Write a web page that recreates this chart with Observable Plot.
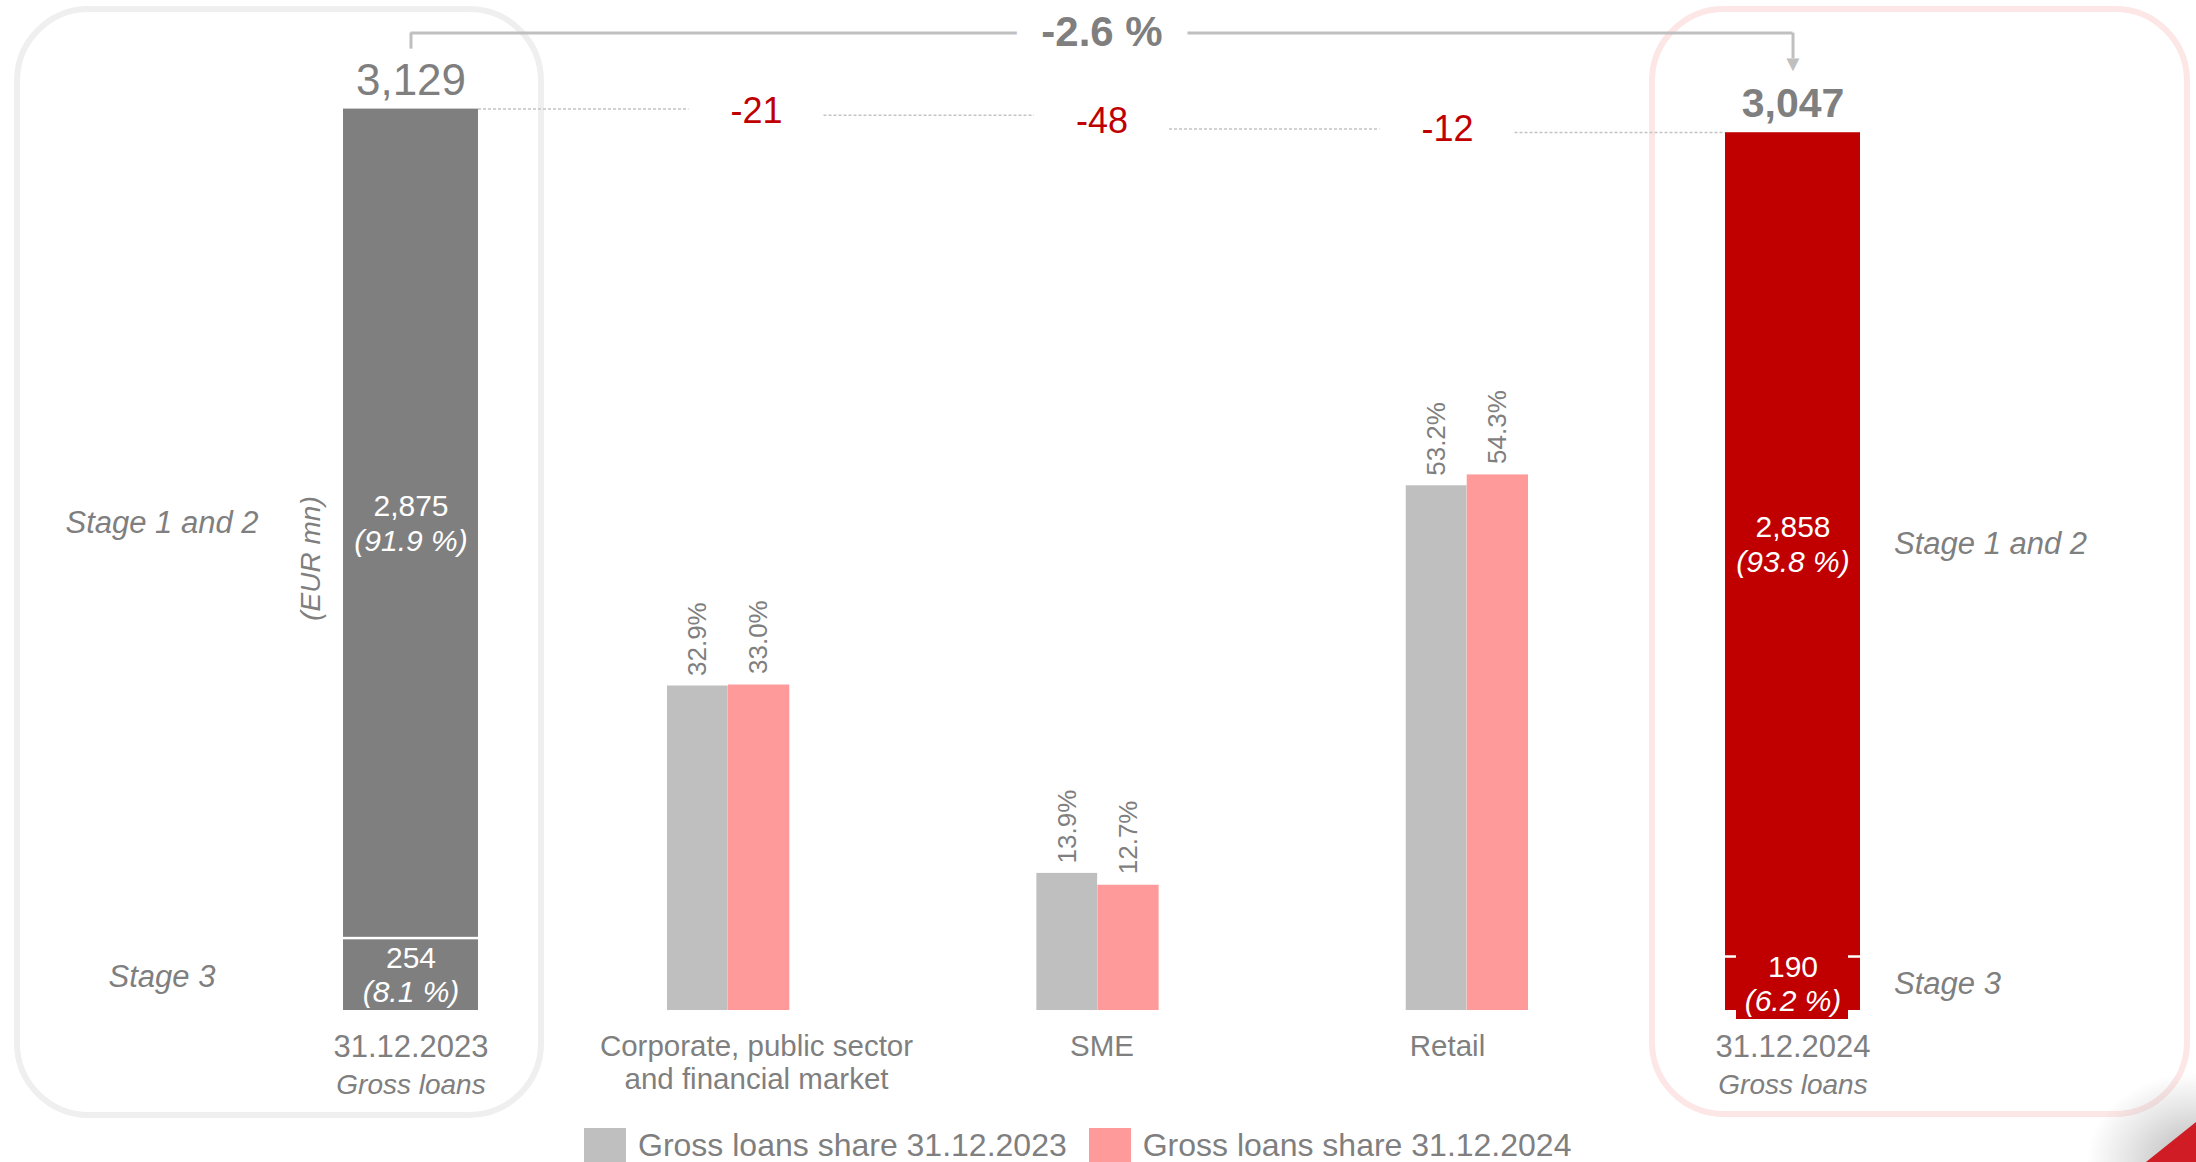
<!DOCTYPE html>
<html>
<head>
<meta charset="utf-8">
<script src="https://cdn.jsdelivr.net/npm/d3@7"></script>
<script src="https://cdn.jsdelivr.net/npm/@observablehq/plot@0.6"></script>
<style>
html, body { margin: 0; padding: 0; background: #fff; }
#wrap { position: relative; width: 2196px; height: 1162px; overflow: hidden; font-family: "Liberation Sans", Arial, sans-serif; }
#wrap svg { position: absolute; left: 0; top: 0; }
.box { position: absolute; box-sizing: border-box; border-radius: 75px; }
#legend { position: absolute; left: 584px; top: 1128px; display: flex; align-items: flex-start; color: #7f7f7f; font-size: 32px; }
#legend .item { display: flex; align-items: flex-start; margin-right: 22px; }
#legend .sw { width: 42px; height: 34px; margin-right: 12px; }
#legend .lab { line-height: 30px; height: 30px; margin-top: 2px; white-space: nowrap; }
#corner-shadow { position: absolute; right: 0; bottom: 0; width: 110px; height: 90px;
  background: radial-gradient(ellipse at 100% 100%, rgba(120,120,120,0.55) 0%, rgba(160,160,160,0.25) 45%, rgba(255,255,255,0) 70%); }
#corner-red { position: absolute; right: 0; bottom: 0; width: 50px; height: 40px; background: #d01c24;
  clip-path: polygon(0 100%, 100% 0, 100% 100%); }
</style>
</head>
<body>
<div id="wrap">
  <div class="box" style="left:14px;top:6px;width:530px;height:1112px;border:6px solid #efefef;"></div>
  <div class="box" style="left:1649px;top:6px;width:541px;height:1111px;border:6px solid #fde6e6;"></div>
  <div id="corner-shadow"></div>
  <div id="corner-red"></div>
  <div id="legend"></div>
</div>
<script>
// ---- data ----
const grossDates = ["31.12.2023", "31.12.2024"];
const grossTotal = [3129, 3047];
const stage12 = [2875, 2858];
const stage3 = [254, 190];
const stage12Pct = [91.9, 93.8];
const stage3Pct = [8.1, 6.2];
const stageNames = ["Stage 1 and 2", "Stage 3"];
const grossSubLabel = "Gross loans";
const unitLabel = "(EUR mn)";

const segments = ["Corporate, public sector and financial market", "SME", "Retail"];
const segLine1 = ["Corporate, public sector", "SME", "Retail"];
const segLine2 = ["and financial market", "", ""];
const deltas = [-21, -48, -12];
const share2023 = [32.9, 13.9, 53.2];
const share2024 = [33.0, 12.7, 54.3];
const legendLabels = ["Gross loans share 31.12.2023", "Gross loans share 31.12.2024"];

// ---- derived tables ----
const grossRows = grossDates.map((d, i) => ({
  date: d, total: grossTotal[i], stage12: stage12[i], stage3: stage3[i],
  pct12: stage12Pct[i], pct3: stage3Pct[i]
}));
let run = grossTotal[0];
const deltaRows = segments.map((s, i) => {
  const start = run; run += deltas[i];
  return {seg: s, delta: deltas[i], start, end: run, line1: segLine1[i], line2: segLine2[i]};
});
const cats = [grossDates[0], ...segments, grossDates[1]];
const connRows = cats.slice(0, -1).map((c, i) => ({
  from: c, to: cats[i + 1], level: i === 0 ? grossTotal[0] : deltaRows[i - 1].end
}));
const shareRows = segments.map((s, i) => ({seg: s, s23: share2023[i], s24: share2024[i]}));
const changeText = ((grossTotal[1] / grossTotal[0] - 1) * 100).toFixed(1) + " %";

// ---- styles ----
const FONT = "Liberation Sans, Arial, sans-serif";
const GRAY = "#7f7f7f";
const RED = "#c00000";
const BW = 135;
const fmt = d3.format(",");
const pct = v => `(${v.toFixed(1)} %)`;
const colors = ["#7f7f7f", "#c00000"];

// ---- Plot A: gross loans waterfall (EUR mn) ----
const marksA = [];
grossRows.forEach((r, i) => {
  marksA.push(Plot.barY([r], {x: "date", y1: 0, y2: "stage3", fill: colors[i], insetTop: 2.5}));
  marksA.push(Plot.barY([r], {x: "date", y1: "stage3", y2: "total", fill: colors[i]}));
});
// label backing on 2024 stage 3
marksA.push(Plot.barY([grossRows[1]], {x: "date", y1: 0, y2: "stage3", fill: RED, insetLeft: 11, insetRight: 12, insetTop: -3, insetBottom: -9}));

marksA.push(
  // connectors
  Plot.ruleY(connRows, {y: "level", x1: "from", x2: "to", insetLeft: BW, insetRight: BW, stroke: "#c4c4c4", strokeWidth: 1.5, strokeDasharray: "3,2"}),
  // values inside bars
  Plot.text(grossRows, {x: "date", y: d => (d.stage3 + d.total) / 2, text: d => fmt(d.stage12), dy: -17, fill: "white", fontSize: 30}),
  Plot.text(grossRows, {x: "date", y: d => (d.stage3 + d.total) / 2, text: d => pct(d.pct12), dy: 18, fill: "white", fontSize: 30, fontStyle: "italic"}),
  Plot.text(grossRows, {x: "date", y: d => d.stage3 / 2, text: d => fmt(d.stage3), dy: -16, fill: "white", fontSize: 30}),
  Plot.text(grossRows, {x: "date", y: d => d.stage3 / 2, text: d => pct(d.pct3), dy: 18, fill: "white", fontSize: 30, fontStyle: "italic"}),
  // totals
  Plot.text([grossRows[0]], {x: "date", y: "total", text: d => fmt(d.total), dy: -28, fill: GRAY, fontSize: 44}),
  Plot.text([grossRows[1]], {x: "date", y: "total", text: d => fmt(d.total), dy: -29, fill: GRAY, fontSize: 41, fontWeight: "bold"}),
  // stage labels
  Plot.text([grossRows[0]], {x: "date", y: d => (d.stage3 + d.total) / 2, text: () => stageNames[0], dx: -249, fill: GRAY, fontSize: 31, fontStyle: "italic"}),
  Plot.text([grossRows[0]], {x: "date", y: d => d.stage3 / 2, text: () => stageNames[1], dx: -249, dy: 3, fill: GRAY, fontSize: 31, fontStyle: "italic"}),
  Plot.text([grossRows[1]], {x: "date", y: d => (d.stage3 + d.total) / 2, text: () => stageNames[0], dx: 101, textAnchor: "start", fill: GRAY, fontSize: 31, fontStyle: "italic"}),
  Plot.text([grossRows[1]], {x: "date", y: d => d.stage3 / 2, text: () => stageNames[1], dx: 101, dy: 1, textAnchor: "start", fill: GRAY, fontSize: 31, fontStyle: "italic"}),
  // deltas
  Plot.text(deltaRows, {x: "seg", y: d => (d.start + d.end) / 2, text: d => String(d.delta), dy: -1, fill: RED, fontSize: 36}),
  // bracket with change
  Plot.ruleY([grossRows[0]], {y: "total", x1: () => grossDates[0], x2: () => grossDates[1], insetLeft: BW / 2, insetRight: BW / 2, dy: -76, stroke: "#bfbfbf", strokeWidth: 3}),
  Plot.ruleX([grossRows[0]], {x: "date", y1: "total", y2: "total", insetTop: -76, insetBottom: 60, stroke: "#bfbfbf", strokeWidth: 3}),
  Plot.ruleX([grossRows[1]], {x: "date", y1: () => grossTotal[0], y2: "total", insetTop: -76, insetBottom: 74, stroke: "#bfbfbf", strokeWidth: 3}),
  Plot.text([grossRows[1]], {x: "date", y: "total", text: () => "\u25BC", dy: -69, fill: "#bfbfbf", fontSize: 22}),
  Plot.text([grossRows[0]], {y: "total", text: () => changeText, dy: -77, fill: GRAY, fontSize: 42, fontWeight: "bold", stroke: "white", strokeWidth: 52, paintOrder: "stroke", strokeLinejoin: "round"}),
  // bottom labels
  Plot.text(grossRows, {x: "date", frameAnchor: "bottom", lineAnchor: "middle", text: "date", dy: 37, fill: GRAY, fontSize: 31}),
  Plot.text(grossRows, {x: "date", frameAnchor: "bottom", lineAnchor: "middle", text: () => grossSubLabel, dy: 75, fill: GRAY, fontSize: 28, fontStyle: "italic"}),
  Plot.text(deltaRows, {x: "seg", frameAnchor: "bottom", lineAnchor: "middle", text: "line1", dy: 36, fill: GRAY, fontSize: 29.5}),
  Plot.text(deltaRows, {x: "seg", frameAnchor: "bottom", lineAnchor: "middle", text: "line2", dy: 69, fill: GRAY, fontSize: 29.5}),
  // unit
  Plot.text([unitLabel], {frameAnchor: "left", textAnchor: "middle", lineAnchor: "middle", text: d => d, rotate: -90, dx: -32, dy: 53, fill: GRAY, fontSize: 28, fontStyle: "italic"})
);

const plotA = Plot.plot({
  width: 2196, height: 1162,
  marginTop: 0, marginBottom: 152, marginLeft: 343, marginRight: 336,
  style: {background: "transparent", fontFamily: FONT, overflow: "visible"},
  x: {type: "band", domain: cats, paddingInner: 0.6093, paddingOuter: 0, round: false, axis: null},
  y: {domain: [0, 3506], axis: null},
  marks: marksA
});

// ---- Plot B: shares ----
const plotB = Plot.plot({
  width: 2196, height: 1162,
  marginTop: 0, marginBottom: 152, marginLeft: 667, marginRight: 668,
  style: {background: "transparent", fontFamily: FONT, overflow: "visible"},
  x: {type: "band", domain: segments, paddingInner: 0.669, paddingOuter: 0, round: false, axis: null},
  y: {domain: [0, 102.4], axis: null},
  marks: [
    Plot.barY(shareRows, {x: "seg", y: "s23", fill: "#bfbfbf", insetRight: 61.5}),
    Plot.barY(shareRows, {x: "seg", y: "s24", fill: "#fe9a9a", insetLeft: 61}),
    Plot.text(shareRows, {x: "seg", y: "s23", text: d => d.s23.toFixed(1) + "%", rotate: -90, textAnchor: "start", dx: -30.5, dy: -10, fill: GRAY, fontSize: 26}),
    Plot.text(shareRows, {x: "seg", y: "s24", text: d => d.s24.toFixed(1) + "%", rotate: -90, textAnchor: "start", dx: 30.5, dy: -11, fill: GRAY, fontSize: 26})
  ]
});

const wrap = document.getElementById("wrap");
wrap.insertBefore(plotA, document.getElementById("legend"));
wrap.insertBefore(plotB, document.getElementById("legend"));

// ---- legend ----
const legendColors = ["#bfbfbf", "#fe9a9a"];
const legend = document.getElementById("legend");
legendLabels.forEach((l, i) => {
  const item = document.createElement("div");
  item.className = "item";
  const sw = document.createElement("div");
  sw.className = "sw";
  sw.style.background = legendColors[i];
  const lab = document.createElement("div");
  lab.className = "lab";
  lab.textContent = l;
  item.appendChild(sw); item.appendChild(lab);
  legend.appendChild(item);
});
</script>
</body>
</html>
